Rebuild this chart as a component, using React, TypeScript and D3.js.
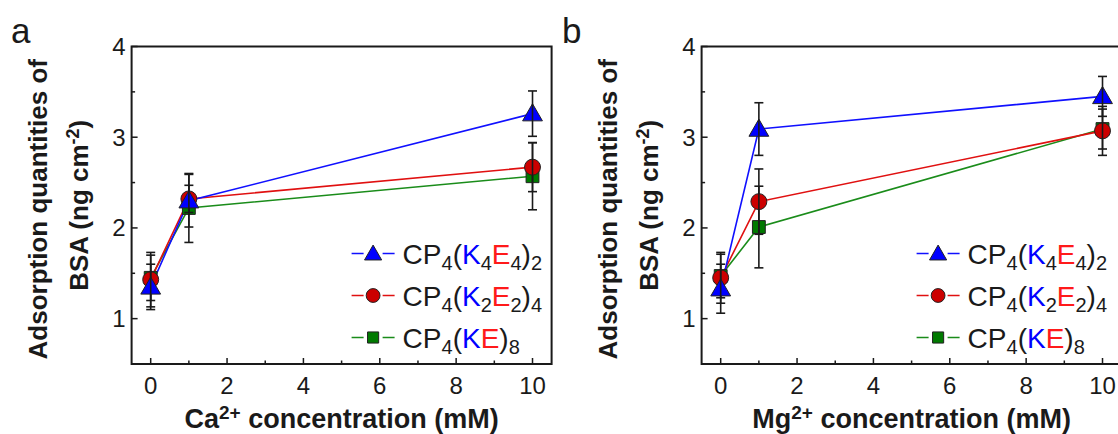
import React from "react";
import * as d3 from "d3";

// x positions (mM) and axis ticks
const concentrations = [0, 1, 10];
const xTicks = [0, 2, 4, 6, 8, 10];
const xMinorTicks = [1, 3, 5, 7, 9];
const yTicks = [1, 2, 3, 4];
const yMinorTicks = [1.5, 2.5, 3.5];
const panelLetters = ["a", "b"];
const ionNames = ["Ca", "Mg"];

// Ca2+ panel (a)
const caK4E4 = [1.35, 2.3, 3.26];
const caK4E4Err = [0.25, 0.29, 0.25];
const caK2E2 = [1.43, 2.32, 2.67];
const caK2E2Err = [0.3, 0.15, 0.27];
const caKE = [1.45, 2.22, 2.57];
const caKEErr = [0.25, 0.38, 0.37];

// Mg2+ panel (b)
const mgK4E4 = [1.33, 3.09, 3.45];
const mgK4E4Err = [0.27, 0.29, 0.22];
const mgK2E2 = [1.45, 2.29, 3.07];
const mgK2E2Err = [0.28, 0.36, 0.27];
const mgKE = [1.47, 2.01, 3.09];
const mgKEErr = [0.24, 0.45, 0.22];

const FONT = "Arial, 'Liberation Sans', sans-serif";
const INK = "#1a1a1a";
const BLUE = "#0000ff";
const RED = "#ff1a1a";

// drawing order: green (bottom), red, blue (top)
const seriesStyle = [
  { line: "#1a8c1a", fill: "#007a00", symbol: d3.symbolSquare, size: 165 },
  { line: "#e01010", fill: "#cc0000", symbol: d3.symbolCircle, size: 200 },
  { line: "#1010ff", fill: "#0000ff", symbol: d3.symbolTriangle, size: 170 },
];

// legend rows top -> bottom: K4E4, K2E2, KE
const legendRows = [
  { style: 2, subs: ["4", "4", "2"] },
  { style: 1, subs: ["2", "2", "4"] },
  { style: 0, subs: ["", "", "8"] },
];

const pack = (mean: number[], err: number[]) =>
  concentrations.map((c, i) => ({ x: c, y: mean[i], e: err[i] }));

const caData = [pack(caKE, caKEErr), pack(caK2E2, caK2E2Err), pack(caK4E4, caK4E4Err)];
const mgData = [pack(mgKE, mgKEErr), pack(mgK2E2, mgK2E2Err), pack(mgK4E4, mgK4E4Err)];

type Pt = { x: number; y: number; e: number };

function Panel({ ox, letter, letterX, ion, data, legendDx }: { ox: number; letter: string; letterX: number; ion: string; data: Pt[][]; legendDx: number }) {
  const top = 46.5;
  const bottom = 364;
  const x = d3.scaleLinear().domain([-0.5, 10.5]).range([ox, ox + 420]);
  const y = d3.scaleLinear().domain([0.5, 4]).range([bottom, top]);
  const left = x(-0.5);
  const right = x(10.5);
  const line = d3.line<Pt>().x((d) => x(d.x)).y((d) => y(d.y));
  const midY = (top + bottom) / 2;
  const SUB = 20;

  return (
    <g>
      <text x={letterX} y={43} fontFamily={FONT} fontSize={35} fill={INK}>{letter}</text>

      {/* series lines */}
      {data.map((s, i) => (
        <path key={"l" + i} d={line(s) || ""} fill="none" stroke={seriesStyle[i].line} strokeWidth={1.6} />
      ))}

      {/* markers + error bars */}
      {data.map((s, i) => (
        <g key={"m" + i}>
          {s.map((d, j) => (
            <g key={j}>
              <path
                d={d3.symbol().type(seriesStyle[i].symbol).size(seriesStyle[i].size)() || ""}
                transform={`translate(${x(d.x)},${y(d.y) + (seriesStyle[i].symbol === d3.symbolTriangle ? 1.5 : 0)})`}
                fill={seriesStyle[i].fill}
                stroke="#222"
                strokeWidth={1}
              />
              <g stroke={INK} strokeWidth={1.6}>
                <line x1={x(d.x)} x2={x(d.x)} y1={y(d.y - d.e)} y2={y(d.y + d.e)} />
                <line x1={x(d.x) - 4.5} x2={x(d.x) + 4.5} y1={y(d.y - d.e)} y2={y(d.y - d.e)} />
                <line x1={x(d.x) - 4.5} x2={x(d.x) + 4.5} y1={y(d.y + d.e)} y2={y(d.y + d.e)} />
              </g>
            </g>
          ))}
        </g>
      ))}

      {/* frame */}
      <rect x={left} y={top} width={right - left} height={bottom - top} fill="none" stroke={INK} strokeWidth={2} />

      {/* ticks (inside) */}
      <g stroke={INK} strokeWidth={1.5}>
        {xTicks.map((t) => <line key={"xt" + t} x1={x(t)} x2={x(t)} y1={bottom} y2={bottom - 6} />)}
        {xMinorTicks.map((t) => <line key={"xm" + t} x1={x(t)} x2={x(t)} y1={bottom} y2={bottom - 3.5} />)}
        {yTicks.map((t) => <line key={"yt" + t} x1={left} x2={left + 6} y1={y(t)} y2={y(t)} />)}
        {yMinorTicks.map((t) => <line key={"ym" + t} x1={left} x2={left + 3.5} y1={y(t)} y2={y(t)} />)}
      </g>

      {/* tick labels */}
      <g fontFamily={FONT} fontSize={24} fill={INK}>
        {xTicks.map((t) => (
          <text key={"xl" + t} x={x(t)} y={393.5} textAnchor="middle">{t}</text>
        ))}
        {yTicks.map((t) => (
          <text key={"yl" + t} x={left - 6} y={y(t) + 8.5} textAnchor="end">{t}</text>
        ))}
      </g>

      {/* axis titles */}
      <text x={(left + right) / 2} y={428} textAnchor="middle" fontFamily={FONT} fontWeight="bold" fontSize={27} fill={INK}>
        {ion}
        <tspan fontSize={19} dy={-9}>2+</tspan>
        <tspan dy={9}> concentration (mM)</tspan>
      </text>
      <g transform={`translate(${left - 85},${midY + 4}) rotate(-90)`}>
        <text textAnchor="middle" fontFamily={FONT} fontWeight="bold" fontSize={26} fill={INK}>Adsorption quantities of</text>
      </g>
      <g transform={`translate(${left - 44},${midY}) rotate(-90)`}>
        <text textAnchor="middle" fontFamily={FONT} fontWeight="bold" fontSize={26} fill={INK}>
          BSA (ng cm
          <tspan fontSize={18} dy={-9}>-2</tspan>
          <tspan dy={9}>)</tspan>
        </text>
      </g>

      {/* legend */}
      {legendRows.map((r, i) => {
        const st = seriesStyle[r.style];
        const cy = top + 207 + i * 42;
        const lx = left + legendDx;
        return (
          <g key={"lg" + i}>
            <line x1={lx} x2={lx + 43} y1={cy} y2={cy} stroke={st.line} strokeWidth={1.6} />
            <rect x={lx + 12} y={cy - 9} width={19} height={18} fill="#ffffff" />
            <path
              d={d3.symbol().type(st.symbol).size(st.size * 0.75)() || ""}
              transform={`translate(${lx + 21.5},${cy + (st.symbol === d3.symbolTriangle ? 1.5 : 0)})`}
              fill={st.fill}
              stroke="#222"
              strokeWidth={1}
            />
            <text x={lx + 51} y={cy + 10} fontFamily={FONT} fontSize={28} fill={INK}>
              CP<tspan fontSize={SUB} dy={6}>4</tspan>
              <tspan dy={-6}>(</tspan>
              <tspan fill={BLUE}>K</tspan>
              {r.subs[0] ? <tspan fontSize={SUB} dy={6}>{r.subs[0]}</tspan> : null}
              <tspan fill={RED} dy={r.subs[0] ? -6 : 0}>E</tspan>
              {r.subs[1] ? <tspan fontSize={SUB} dy={6}>{r.subs[1]}</tspan> : null}
              <tspan dy={r.subs[1] ? -6 : 0}>)</tspan>
              <tspan fontSize={SUB} dy={6}>{r.subs[2]}</tspan>
            </text>
          </g>
        );
      })}
    </g>
  );
}

export default function App() {
  return (
    <svg
      width={1118}
      height={434}
      viewBox="0 0 1118 434"
      style={{ position: "absolute", left: 0, top: 0, background: "#ffffff" }}
    >
      <rect x={0} y={0} width={1118} height={434} fill="#ffffff" />
      <Panel ox={131.6} letter={panelLetters[0]} letterX={11} ion={ionNames[0]} data={caData} legendDx={220} />
      <Panel ox={701.6} letter={panelLetters[1]} letterX={562} ion={ionNames[1]} data={mgData} legendDx={215} />
    </svg>
  );
}
